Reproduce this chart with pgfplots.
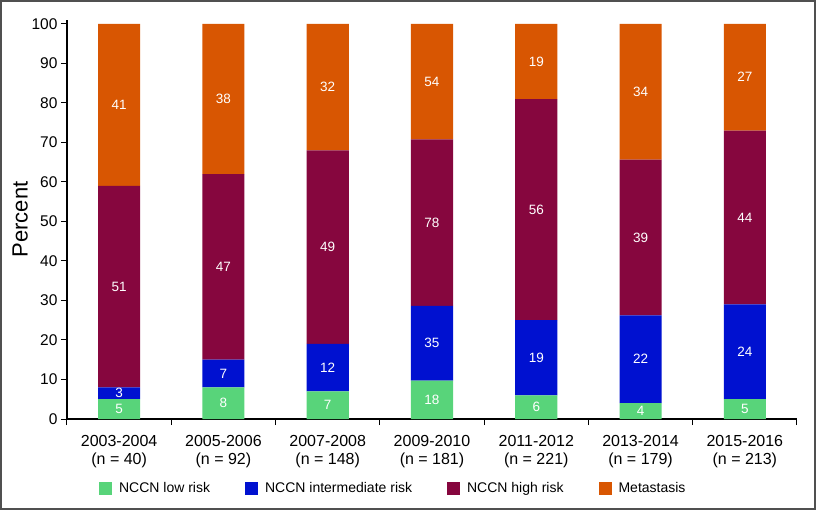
\documentclass[border=0pt]{standalone}
\usepackage{pgfplots}
\pgfplotsset{compat=1.18}
\usepackage{pgfplotstable}
\usepackage{fontspec}
\setmainfont{Liberation Sans}
\definecolor{cLow}{RGB}{88,212,122}
\definecolor{cInt}{RGB}{0,17,208}
\definecolor{cHigh}{RGB}{134,6,62}
\definecolor{cMet}{RGB}{216,86,2}
\definecolor{cFrame}{RGB}{80,80,80}
\pgfplotstableread{
x low int high met tot
0 5 3 51 41 100
1 8 7 47 38 100
2 7 12 49 32 100
3 18 35 78 54 185
4 6 19 56 19 100
5 4 22 39 34 99
6 5 24 44 27 100
}\data
\newcommand{\lbl}{\fontsize{13.5bp}{15bp}\selectfont}
\begin{document}
\begin{tikzpicture}
\draw[cFrame, line width=2bp] (-66bp,-90bp) rectangle (748bp,418bp);
\begin{axis}[
  at={(0,0)}, anchor=south west,
  scale only axis, width=730bp, height=399bp,
  xmin=-0.5, xmax=6.5, ymin=0, ymax=101,
  axis lines*=left,
  axis line style={black, line width=1.5bp},
  ybar stacked, bar width=0.404,
  ytick={0,10,...,100},
  tick align=outside, major tick length=6bp, minor tick length=6bp,
  every tick/.append style={black, line width=1bp},
  xtick={0,...,6},
  xticklabels={{2003-2004\\(n = 40)},{2005-2006\\(n = 92)},{2007-2008\\(n = 148)},{2009-2010\\(n = 181)},{2011-2012\\(n = 221)},{2013-2014\\(n = 179)},{2015-2016\\(n = 213)}},
  every major x tick/.append style={draw=none},
  minor xtick={-0.5,0.5,...,6.5},
  xticklabel style={align=center, font=\fontsize{16bp}{18bp}\selectfont, yshift=-7bp},
  yticklabel style={font=\fontsize{15.5bp}{17bp}\selectfont},
  /pgf/number format/assume math mode=true,
  ylabel={Percent},
  ylabel style={font=\fontsize{22bp}{24bp}\selectfont, xshift=0bp, yshift=-3bp},
  legend style={draw=none, at={(0.447,-0.173)}, anchor=center,
    legend columns=4, font=\fontsize{14bp}{16bp}\selectfont,
    /tikz/every odd column/.append style={column sep=5bp},
    /tikz/every even column/.append style={column sep=33bp}},
  legend image code/.code={\fill[#1] (0bp,-6.5bp) rectangle (13bp,6.5bp);},
]
\addplot[fill=cLow, draw=none] table[x=x, y expr=\thisrow{low}/\thisrow{tot}*100] {\data};
\addplot[fill=cInt, draw=none] table[x=x, y expr=\thisrow{int}/\thisrow{tot}*100] {\data};
\addplot[fill=cHigh, draw=none] table[x=x, y expr=\thisrow{high}/\thisrow{tot}*100] {\data};
\addplot[fill=cMet, draw=none] table[x=x, y expr=\thisrow{met}/\thisrow{tot}*100] {\data};
\legend{NCCN low risk, NCCN intermediate risk, NCCN high risk, Metastasis}
\end{axis}
\begin{axis}[
  at={(0,0)}, anchor=south west,
  scale only axis, width=730bp, height=399bp,
  xmin=-0.5, xmax=6.5, ymin=0, ymax=101,
  hide axis,
  nodes near coords, point meta=explicit symbolic,
  nodes near coords style={font=\lbl, text=white, anchor=center},
]
\addplot[only marks, mark=none] table[x=x, y expr=\thisrow{low}/\thisrow{tot}*50, meta=low] {\data};
\addplot[only marks, mark=none] table[x=x, y expr=(\thisrow{low}+\thisrow{int}/2)/\thisrow{tot}*100, meta=int] {\data};
\addplot[only marks, mark=none] table[x=x, y expr=(\thisrow{low}+\thisrow{int}+\thisrow{high}/2)/\thisrow{tot}*100, meta=high] {\data};
\addplot[only marks, mark=none] table[x=x, y expr=(\thisrow{low}+\thisrow{int}+\thisrow{high}+\thisrow{met}/2)/\thisrow{tot}*100, meta=met] {\data};
\end{axis}
\end{tikzpicture}
\end{document}
